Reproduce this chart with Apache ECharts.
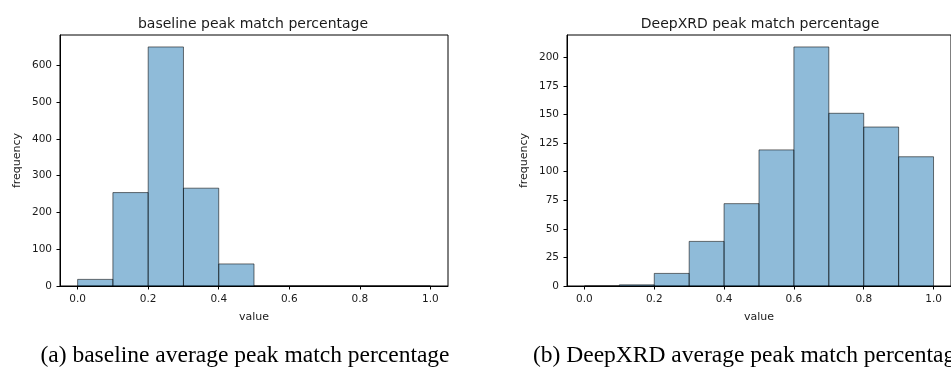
<!DOCTYPE html>
<html lang="en">
<head>
    <meta charset="UTF-8">
    <title>peak match histograms</title>
    <script src="https://cdn.jsdelivr.net/npm/echarts@6/dist/echarts.min.js"></script>
    <style>
        html, body { margin: 0; padding: 0; background: #fff; }
        #main { width: 951px; height: 367px; }
    </style>
</head>
<body>
    <div id="main"></div>
    <script>
        // histogram bins (width 0.1) and counts
        var binStarts = [0.0, 0.1, 0.2, 0.3, 0.4, 0.5, 0.6, 0.7, 0.8, 0.9];
        var binWidth = 0.1;
        var baselineCounts = [18, 254, 650, 266, 60, 0, 0, 0, 0, 0];
        var deepxrdCounts = [0, 1, 11, 39, 72, 119, 209, 151, 139, 113];
        var xTicks = [0.0, 0.2, 0.4, 0.6, 0.8, 1.0];
        var baselineYTicks = [0, 100, 200, 300, 400, 500, 600];
        var deepxrdYTicks = [0, 25, 50, 75, 100, 125, 150, 175, 200];

        function toBins(counts) {
            return binStarts.map(function (s, i) {
                return [s, +(s + binWidth).toFixed(2), counts[i]];
            });
        }

        // same look as matplotlib hist(alpha=0.5, edgecolor black)
        function renderHist(params, api) {
            var p0 = api.coord([api.value(0), 0]);
            var p1 = api.coord([api.value(1), api.value(2)]);
            return {
                type: 'rect',
                shape: { x: p0[0], y: p1[1], width: p1[0] - p0[0], height: p0[1] - p1[1] },
                style: { fill: 'rgba(31,119,180,0.5)', stroke: 'rgba(0,0,0,0.55)', lineWidth: 1 }
            };
        }

        var txt = '#1a1a1a';
        var font = 'DejaVu Sans';

        function xAxisFor(gridIndex) {
            return {
                type: 'value', gridIndex: gridIndex,
                min: -0.05, max: 1.05,
                name: 'value', nameLocation: 'middle', nameGap: 26,
                nameTextStyle: { color: txt, fontFamily: font, fontSize: 11 },
                axisLine: { show: true, onZero: false, lineStyle: { color: '#000', width: 1 } },
                axisTick: { show: true, length: 3.5, lineStyle: { color: '#000' }, customValues: xTicks },
                axisLabel: {
                    color: txt, fontFamily: font, fontSize: 10.5, margin: 8,
                    customValues: xTicks,
                    formatter: function (v) { return (+v).toFixed(1); }
                },
                splitLine: { show: false }
            };
        }

        function yAxisFor(gridIndex, max, ticks) {
            return {
                type: 'value', gridIndex: gridIndex,
                min: 0, max: max,
                name: 'frequency', nameLocation: 'middle', nameRotate: 90, nameGap: 37,
                nameTextStyle: { color: txt, fontFamily: font, fontSize: 11 },
                axisLine: { show: true, onZero: false, lineStyle: { color: '#000', width: 1 } },
                axisTick: { show: true, length: 3.5, lineStyle: { color: '#000' }, customValues: ticks },
                axisLabel: { color: txt, fontFamily: font, fontSize: 10.5, margin: 8, customValues: ticks },
                splitLine: { show: false }
            };
        }

        var chart = echarts.init(document.getElementById('main'));
        var option = {
            backgroundColor: '#fff',
            animation: false,
            title: [
                { text: 'baseline peak match percentage', left: 248, top: 12, textAlign: 'center',
                  textStyle: { color: txt, fontFamily: font, fontSize: 14, fontWeight: 'normal' } },
                { text: 'DeepXRD peak match percentage', left: 755, top: 12, textAlign: 'center',
                  textStyle: { color: txt, fontFamily: font, fontSize: 14, fontWeight: 'normal' } },
                { text: '(a) baseline average peak match percentage', left: 240, top: 339, textAlign: 'center',
                  textStyle: { color: '#000', fontFamily: 'Liberation Serif', fontSize: 23.5, fontWeight: 'normal' } },
                { text: '(b) DeepXRD average peak match percentage', left: 528, top: 339,
                  textStyle: { color: '#000', fontFamily: 'Liberation Serif', fontSize: 23.5, fontWeight: 'normal' } }
            ],
            grid: [
                { left: 60, top: 35, width: 388, height: 251, show: true, borderColor: '#000', borderWidth: 1, backgroundColor: 'transparent' },
                { left: 567, top: 35, width: 388, height: 251, show: true, borderColor: '#000', borderWidth: 1, backgroundColor: 'transparent' }
            ],
            xAxis: [xAxisFor(0), xAxisFor(1)],
            yAxis: [
                yAxisFor(0, 682.5, baselineYTicks),
                yAxisFor(1, 219.45, deepxrdYTicks)
            ],
            series: [
                { type: 'custom', xAxisIndex: 0, yAxisIndex: 0, renderItem: renderHist,
                  encode: { x: [0, 1], y: 2 }, data: toBins(baselineCounts) },
                { type: 'custom', xAxisIndex: 1, yAxisIndex: 1, renderItem: renderHist,
                  encode: { x: [0, 1], y: 2 }, data: toBins(deepxrdCounts) }
            ]
        };
        chart.setOption(option);
    </script>
</body>
</html>
